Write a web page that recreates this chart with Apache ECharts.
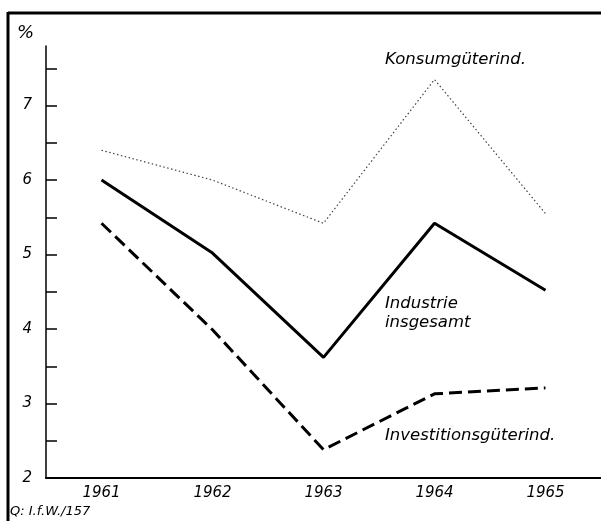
<!DOCTYPE html>
<html>
<head>
<meta charset="utf-8">
<script src="https://cdn.jsdelivr.net/npm/echarts@6/dist/echarts.min.js"></script>
<style>
  html, body { margin: 0; padding: 0; background: #fff; }
  #chart { width: 601px; height: 521px; }
</style>
</head>
<body>
<div id="chart"></div>
<script>
var years = ['1961', '1962', '1963', '1964', '1965'];
var konsum = [6.4, 6.0, 5.42, 7.35, 5.55];
var industrie = [6.0, 5.02, 3.62, 5.42, 4.52];
var investition = [5.42, 3.99, 2.38, 3.13, 3.21];
var yLabels = [2, 3, 4, 5, 6, 7];
var yTicks = [2.5, 3, 3.5, 4, 4.5, 5, 5.5, 6, 6.5, 7, 7.5];

var font = 'DejaVu Sans';
var chart = echarts.init(document.getElementById('chart'));

chart.setOption({
  backgroundColor: '#fff',
  animation: false,
  grid: { left: 46, top: 46, width: 560, height: 432 },
  xAxis: {
    type: 'category',
    data: years,
    boundaryGap: true,
    axisLine: { lineStyle: { color: '#000', width: 2 } },
    axisTick: { inside: true, length: 20, lineStyle: { color: '#000', width: 1.5 } },
    axisLabel: { color: '#000', fontFamily: font, fontStyle: 'italic', fontSize: 15, margin: 8 },
    splitLine: { show: false }
  },
  yAxis: {
    type: 'value',
    min: 2,
    max: 7.8,
    axisLine: { show: true, lineStyle: { color: '#000', width: 1.5 } },
    axisTick: { show: true, inside: true, length: 11, customValues: yTicks, lineStyle: { color: '#000', width: 1.5 } },
    axisLabel: { color: '#000', fontFamily: font, fontStyle: 'italic', fontSize: 15, margin: 14, customValues: yLabels },
    splitLine: { show: false }
  },
  series: [
    {
      name: 'Konsumgüterind.',
      type: 'line',
      data: konsum,
      symbol: 'none',
      lineStyle: { color: '#444', width: 1.2, type: [1.5, 2.5] }
    },
    {
      name: 'Industrie insgesamt',
      type: 'line',
      data: industrie,
      symbol: 'none',
      lineStyle: { color: '#000', width: 3 }
    },
    {
      name: 'Investitionsgüterind.',
      type: 'line',
      data: investition,
      symbol: 'none',
      lineStyle: { color: '#000', width: 3, type: [13, 6] }
    }
  ],
  graphic: [
    { type: 'line', shape: { x1: 8, y1: 13, x2: 601, y2: 13 }, style: { stroke: '#000', lineWidth: 3 } },
    { type: 'line', shape: { x1: 8, y1: 12, x2: 8, y2: 521 }, style: { stroke: '#000', lineWidth: 3 } },
    { type: 'text', left: 17, top: 24, style: { text: '%', font: 'italic 18px "DejaVu Sans"', fill: '#000' } },
    { type: 'text', left: 385, top: 51, style: { text: 'Konsumgüterind.', font: 'italic 16.5px "DejaVu Sans"', fill: '#000' } },
    { type: 'text', left: 385, top: 294, style: { text: 'Industrie\ninsgesamt', font: 'italic 16.5px "DejaVu Sans"', lineHeight: 19, fill: '#000' } },
    { type: 'text', left: 385, top: 427, style: { text: 'Investitionsgüterind.', font: 'italic 16.5px "DejaVu Sans"', fill: '#000' } },
    { type: 'text', left: 10, top: 505, style: { text: 'Q: I.f.W./157', font: 'italic 13px "DejaVu Sans"', fill: '#000' } }
  ]
});
</script>
</body>
</html>
